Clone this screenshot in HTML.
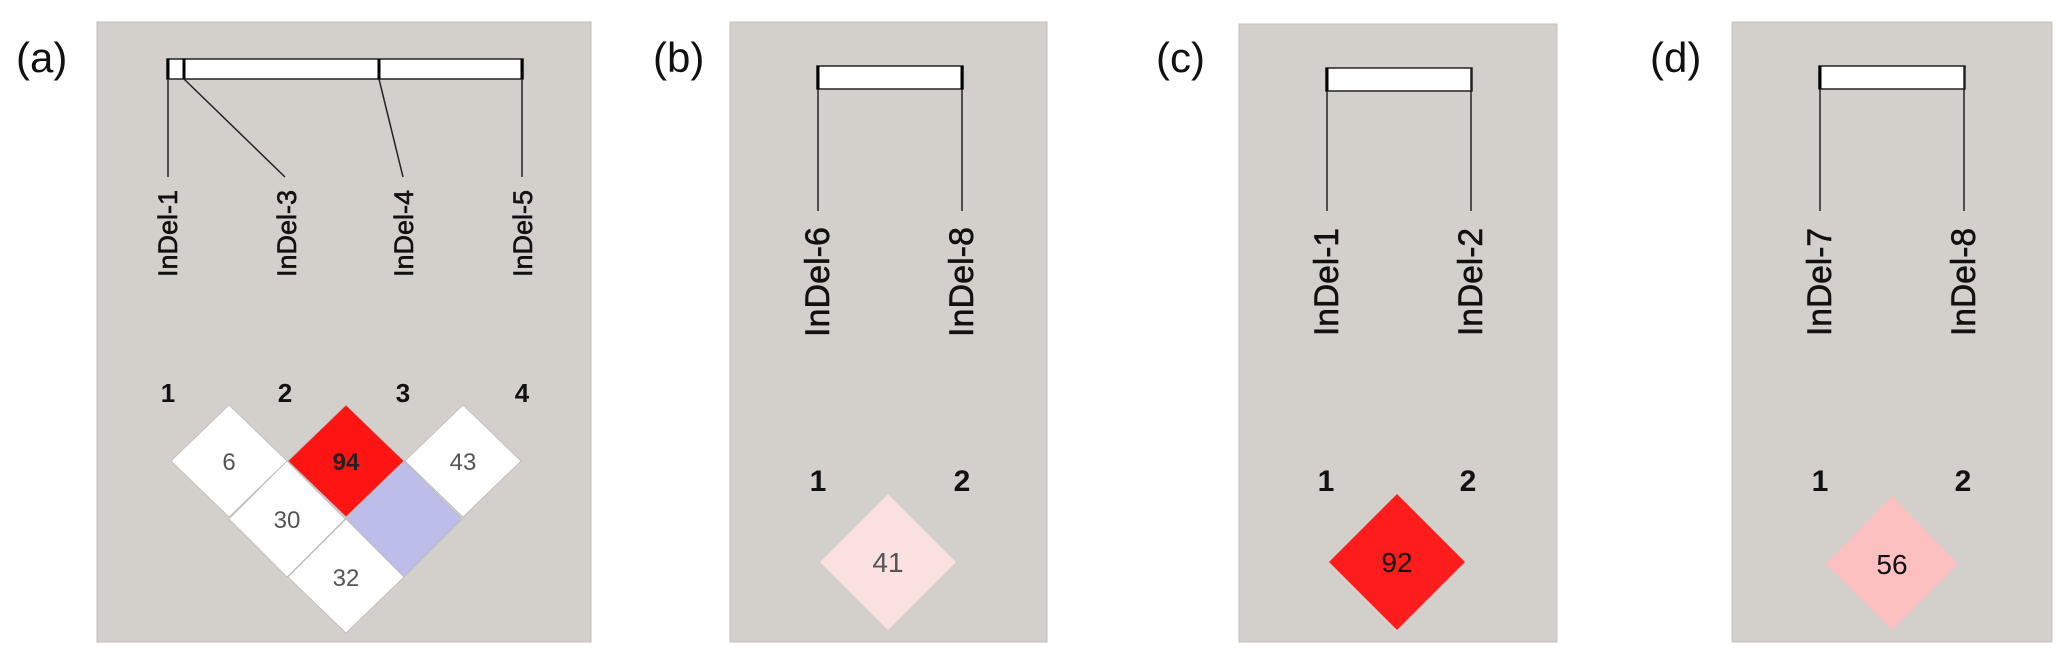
<!DOCTYPE html>
<html><head><meta charset="utf-8"><style>
html,body{margin:0;padding:0;background:#fff;}
svg{display:block;}
text{font-family:"Liberation Sans",sans-serif;}
</style></head><body>
<svg width="2067" height="663" viewBox="0 0 2067 663" xmlns="http://www.w3.org/2000/svg">
<g font-size="42" fill="#111">
<text x="16" y="72">(a)</text>
<text x="653" y="72">(b)</text>
<text x="1156" y="72">(c)</text>
<text x="1650" y="72">(d)</text>
</g>
<!-- panel a -->
<rect x="97" y="22" width="494" height="620" fill="#d3d0cb" stroke="#c4c1bc"/>
<rect x="167" y="59" width="356" height="20" fill="#fff" stroke="#222" stroke-width="1.5"/>
<line x1="168" y1="59" x2="168" y2="79" stroke="#000" stroke-width="3"/>
<line x1="184" y1="59" x2="184" y2="79" stroke="#000" stroke-width="3"/>
<line x1="379" y1="59" x2="379" y2="79" stroke="#000" stroke-width="3"/>
<line x1="522" y1="59" x2="522" y2="79" stroke="#000" stroke-width="3"/>
<g stroke="#222" stroke-width="1.5">
<line x1="168" y1="79" x2="168" y2="177"/>
<line x1="184" y1="79" x2="285" y2="177"/>
<line x1="379" y1="79" x2="403" y2="177"/>
<line x1="522" y1="79" x2="522" y2="177"/>
</g>
<g font-size="27" fill="#111" stroke="#111" stroke-width="0.6">
<text transform="translate(177,277) rotate(-90)" textLength="87" lengthAdjust="spacingAndGlyphs">InDel-1</text>
<text transform="translate(296,277) rotate(-90)" textLength="87" lengthAdjust="spacingAndGlyphs">InDel-3</text>
<text transform="translate(413,277) rotate(-90)" textLength="87" lengthAdjust="spacingAndGlyphs">InDel-4</text>
<text transform="translate(532,277) rotate(-90)" textLength="87" lengthAdjust="spacingAndGlyphs">InDel-5</text>
</g>
<g font-size="26" font-weight="bold" fill="#111" text-anchor="middle">
<text x="168" y="402">1</text><text x="285" y="402">2</text><text x="403" y="402">3</text><text x="522" y="402">4</text>
</g>
<g stroke="#bbb" stroke-width="0.8">
<polygon points="229,405 287,461 229,517 171,461" fill="#fff"/>
<polygon points="346,405 404,461 346,517 288,461" fill="#ff1414"/>
<polygon points="463,405 521,461 463,517 405,461" fill="#fff"/>
<polygon points="287,461 345,519 287,577 229,519" fill="#fff"/>
<polygon points="404,461 462,519 404,577 346,519" fill="#bcbde8"/>
<polygon points="346,519 404,577 346,633 288,577" fill="#fff"/>
</g>
<g font-size="24" fill="#555" text-anchor="middle">
<text x="229" y="470">6</text>
<text x="346" y="470" fill="#222" font-weight="bold">94</text>
<text x="463" y="470">43</text>
<text x="287" y="528">30</text>
<text x="346" y="586">32</text>
</g>
<!-- panel b -->
<rect x="730" y="22" width="317" height="620" fill="#d3d0cb" stroke="#c4c1bc"/>
<rect x="817" y="66" width="146" height="23" fill="#fff" stroke="#222" stroke-width="1.5"/>
<line x1="818" y1="66" x2="818" y2="89" stroke="#000" stroke-width="3"/>
<line x1="962" y1="66" x2="962" y2="89" stroke="#000" stroke-width="3"/>
<g stroke="#222" stroke-width="1.5"><line x1="818" y1="89" x2="818" y2="211"/><line x1="962" y1="89" x2="962" y2="211"/></g>
<g font-size="34" fill="#111" stroke="#111" stroke-width="0.6">
<text transform="translate(829,337) rotate(-90)" textLength="110" lengthAdjust="spacingAndGlyphs">InDel-6</text>
<text transform="translate(973,337) rotate(-90)" textLength="110" lengthAdjust="spacingAndGlyphs">InDel-8</text>
</g>
<g font-size="30" font-weight="bold" fill="#111" text-anchor="middle"><text x="818" y="491">1</text><text x="962" y="491">2</text></g>
<polygon points="888,494 956,562 888,630 820,562" fill="#fbe0e0"/>
<text x="888" y="572" font-size="28" fill="#555" text-anchor="middle">41</text>
<!-- panel c -->
<rect x="1239" y="24" width="318" height="618" fill="#d3d0cb" stroke="#c4c1bc"/>
<rect x="1326" y="68" width="146" height="23" fill="#fff" stroke="#222" stroke-width="1.5"/>
<line x1="1327" y1="68" x2="1327" y2="91" stroke="#000" stroke-width="3"/>
<g stroke="#222" stroke-width="1.5"><line x1="1327" y1="91" x2="1327" y2="211"/><line x1="1471" y1="68" x2="1471" y2="211"/></g>
<g font-size="34" fill="#111" stroke="#111" stroke-width="0.6">
<text transform="translate(1338,336) rotate(-90)" textLength="108" lengthAdjust="spacingAndGlyphs">InDel-1</text>
<text transform="translate(1482,336) rotate(-90)" textLength="108" lengthAdjust="spacingAndGlyphs">InDel-2</text>
</g>
<g font-size="30" font-weight="bold" fill="#111" text-anchor="middle"><text x="1326" y="491">1</text><text x="1468" y="491">2</text></g>
<polygon points="1397,494 1465,562 1397,630 1329,562" fill="#ff1c1c"/>
<text x="1397" y="572" font-size="28" fill="#111" text-anchor="middle">92</text>
<!-- panel d -->
<rect x="1732" y="22" width="320" height="620" fill="#d3d0cb" stroke="#c4c1bc"/>
<rect x="1819" y="66" width="146" height="23" fill="#fff" stroke="#222" stroke-width="1.5"/>
<line x1="1820" y1="66" x2="1820" y2="89" stroke="#000" stroke-width="3"/>
<g stroke="#222" stroke-width="1.5"><line x1="1820" y1="89" x2="1820" y2="211"/><line x1="1964" y1="66" x2="1964" y2="211"/></g>
<g font-size="34" fill="#111" stroke="#111" stroke-width="0.6">
<text transform="translate(1831,336) rotate(-90)" textLength="108" lengthAdjust="spacingAndGlyphs">InDel-7</text>
<text transform="translate(1975,336) rotate(-90)" textLength="108" lengthAdjust="spacingAndGlyphs">InDel-8</text>
</g>
<g font-size="30" font-weight="bold" fill="#111" text-anchor="middle"><text x="1820" y="491">1</text><text x="1963" y="491">2</text></g>
<polygon points="1892,496 1958,564 1892,630 1826,564" fill="#fdc0c0"/>
<text x="1892" y="574" font-size="28" fill="#111" text-anchor="middle">56</text>
</svg>
</body></html>
